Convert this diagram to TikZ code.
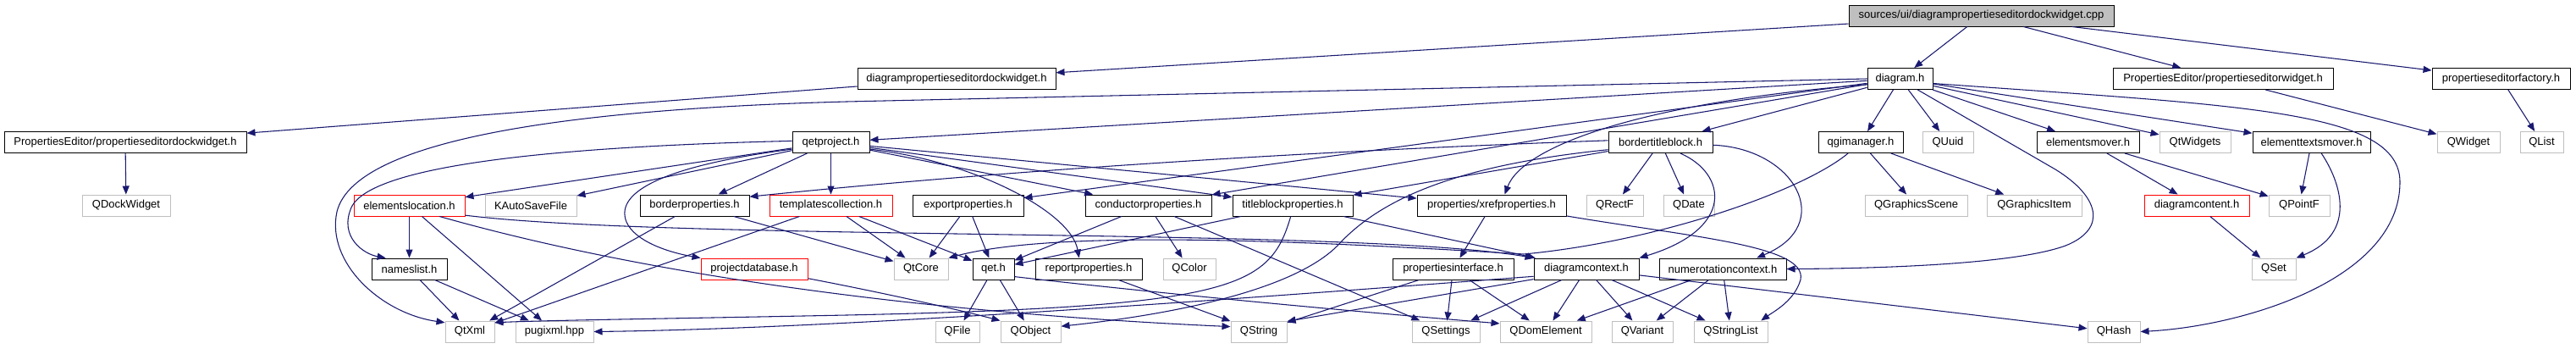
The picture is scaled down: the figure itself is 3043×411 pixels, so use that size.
\documentclass[tikz,border=0pt]{standalone}
\usepackage{fontspec}
\setmainfont{Liberation Sans}
\usetikzlibrary{arrows.meta}
\definecolor{edgeblue}{HTML}{191970}
\definecolor{greyb}{HTML}{BFBFBF}
\definecolor{truncred}{HTML}{FF0000}
\tikzset{
  base/.style={rectangle, minimum height=18.75pt, inner sep=0pt, line width=0.75pt,
    font=\fontsize{9.75pt}{11pt}\selectfont, text=black},
  doc/.style={base, draw=black, fill=white},
  ext/.style={base, draw=greyb, fill=white},
  trunc/.style={base, draw=truncred, fill=white},
  rootn/.style={base, draw=black, fill=greyb},
  bw/.style={minimum width=#1*0.75pt},
  dep/.style={draw=edgeblue, line width=0.8pt, -{Triangle[length=7.5pt,width=6pt]}}
}
\begin{document}
\begin{tikzpicture}[x=0.75pt,y=-0.75pt]
\fill[white] (0,0) rectangle (3043,411);
\path[use as bounding box] (0,0) rectangle (3043,411);
% row 0
\node[rootn,bw=313] (root) at (2340.5,18.5) {sources/ui/diagrampropertieseditordockwidget.cpp};
% row 1
\node[doc,bw=234] (dpedw) at (1130,93) {diagrampropertieseditordockwidget.h};
\node[doc,bw=77] (d) at (2244.5,93) {diagram.h};
\node[doc,bw=260] (pew) at (2626,93) {PropertiesEditor/propertieseditorwidget.h};
\node[doc,bw=163] (pef) at (2954.5,93) {propertieseditorfactory.h};
% row 2
\node[doc,bw=286] (pedw) at (148,168) {PropertiesEditor/propertieseditordockwidget.h};
\node[doc,bw=91] (qp) at (981.5,168) {qetproject.h};
\node[doc,bw=123] (btb) at (1961.5,168) {bordertitleblock.h};
\node[doc,bw=100] (qgim) at (2198,168) {qgimanager.h};
\node[ext,bw=60] (quuid) at (2301,168) {QUuid};
\node[doc,bw=121] (em) at (2466.5,168) {elementsmover.h};
\node[ext,bw=84] (qtwidgets) at (2593,168) {QtWidgets};
\node[doc,bw=139] (etm) at (2730.5,168) {elementtextsmover.h};
\node[ext,bw=74] (qwidget) at (2916,168) {QWidget};
\node[ext,bw=51] (qlist) at (3002.5,168) {QList};
% row 3
\node[ext,bw=104] (qdockwidget) at (149,242.5) {QDockWidget};
\node[trunc,bw=131] (el) at (483.5,242.5) {elementslocation.h};
\node[ext,bw=108] (kasf) at (627,242.5) {KAutoSaveFile};
\node[doc,bw=129] (bp) at (820.5,242.5) {borderproperties.h};
\node[trunc,bw=145] (tc) at (981.5,242.5) {templatescollection.h};
\node[doc,bw=131] (exp) at (1143.5,242.5) {exportproperties.h};
\node[doc,bw=149] (cp) at (1356.5,242.5) {conductorproperties.h};
\node[doc,bw=142] (tbp) at (1527,242.5) {titleblockproperties.h};
\node[doc,bw=176] (xref) at (1762,242.5) {properties/xrefproperties.h};
\node[ext,bw=67] (qrectf) at (1907.5,242.5) {QRectF};
\node[ext,bw=60] (qdate) at (1995,242.5) {QDate};
\node[ext,bw=121] (qgs) at (2263.5,242.5) {QGraphicsScene};
\node[ext,bw=112] (qgi) at (2403,242.5) {QGraphicsItem};
\node[trunc,bw=124] (dct) at (2595,242.5) {diagramcontent.h};
\node[ext,bw=72] (qpointf) at (2716,242.5) {QPointF};
% row 4
\node[doc,bw=89] (nl) at (483.5,317.5) {nameslist.h};
\node[trunc,bw=126] (pdb) at (891,317.5) {projectdatabase.h};
\node[ext,bw=64] (qtcore) at (1088,317.5) {QtCore};
\node[doc,bw=49] (qet) at (1173.5,317.5) {qet.h};
\node[doc,bw=126] (rp) at (1286,317.5) {reportproperties.h};
\node[ext,bw=62] (qcolor) at (1405,317.5) {QColor};
\node[doc,bw=143] (pi) at (1716.5,317.5) {propertiesinterface.h};
\node[doc,bw=124] (dc) at (1874,317.5) {diagramcontext.h};
\node[doc,bw=150] (nc) at (2035,317.5) {numerotationcontext.h};
\node[ext,bw=52] (qset) at (2686,317.5) {QSet};
% row 5
\node[ext,bw=58] (qtxml) at (555,391.5) {QtXml};
\node[ext,bw=92] (pugixml) at (655,391.5) {pugixml.hpp};
\node[ext,bw=52] (qfile) at (1131,391.5) {QFile};
\node[ext,bw=71] (qobject) at (1217.5,391.5) {QObject};
\node[ext,bw=66] (qstring) at (1487,391.5) {QString};
\node[ext,bw=80] (qsettings) at (1708,391.5) {QSettings};
\node[ext,bw=108] (qdomelement) at (1826,391.5) {QDomElement};
\node[ext,bw=72] (qvariant) at (1940,391.5) {QVariant};
\node[ext,bw=87] (qstringlist) at (2044.5,391.5) {QStringList};
\node[ext,bw=62] (qhash) at (2497,391.5) {QHash};

% root
\draw[dep] (root) -- (dpedw);
\draw[dep] (root) -- (d);
\draw[dep] (root) -- (pew);
\draw[dep] (root) -- (pef);
\draw[dep] (dpedw) -- (pedw);
\draw[dep] (pedw) -- (qdockwidget);
\draw[dep] (pew) -- (qwidget);
\draw[dep] (pef) -- (qlist);
% diagram.h
\draw[dep] (d.west) -- (1000,120) .. controls (700,128) and (420,160) .. (398,250) .. controls (385,310) and (450,370) .. (qtxml.160);
\draw[dep] (d) -- (qp);
\draw[dep] (d) -- (exp);
\draw[dep] (d) -- (cp);
\draw[dep] (d.190) .. controls (1950,120) and (1800,170) .. (xref.40);
\draw[dep] (d) -- (btb);
\draw[dep] (d) -- (qgim);
\draw[dep] (d) -- (quuid);
\draw[dep] (d) -- (em);
\draw[dep] (d) -- (qtwidgets);
\draw[dep] (d) -- (etm);
\draw[dep] (d.-32) -- (2428,200) .. controls (2480,232) and (2490,270) .. (2440,290) .. controls (2380,312) and (2220,317) .. (nc.east);
\draw[dep] (d.-8) .. controls (2650,125) and (2835,130) .. (2835,215) .. controls (2835,330) and (2650,385) .. (qhash.east);
% qetproject.h
\draw[dep] (qp) -- (el);
\draw[dep] (qp) -- (kasf);
\draw[dep] (qp) -- (bp);
\draw[dep] (qp) -- (tc);
\draw[dep] (qp) -- (cp);
\draw[dep] (qp) -- (tbp);
\draw[dep] (qp) -- (xref);
\draw[dep] (qp.178) .. controls (700,172) and (440,190) .. (415,245) .. controls (400,280) and (430,300) .. (nl.155);
\draw[dep] (qp.190) .. controls (790,195) and (725,225) .. (740,262) .. controls (750,285) and (790,298) .. (pdb.north west);
\draw[dep] (qp.-10) .. controls (1150,190) and (1265,250) .. (rp.131);
% bordertitleblock.h
\draw[dep] (btb.178) .. controls (1500,180) and (1150,205) .. (bp.9);
\draw[dep] (btb) -- (tbp);
\draw[dep] (btb.188) .. controls (1720,195) and (1630,235) .. (1580,290) .. controls (1520,350) and (1350,375) .. (qobject.10);
\draw[dep] (btb) -- (qrectf);
\draw[dep] (btb) -- (qdate);
\draw[dep] (btb.-29) .. controls (2040,205) and (2050,270) .. (dc.north east);
\draw[dep] (btb.-3) .. controls (2120,175) and (2170,265) .. (nc.18);
% qgimanager.h
\draw[dep] (qgim) -- (qgs);
\draw[dep] (qgim) -- (qgi);
\draw[dep] (qgim.-139) .. controls (2130,225) and (1960,285) .. (1800,300) .. controls (1550,285) and (1250,270) .. (qtcore.north east);
% movers
\draw[dep] (em) -- (dct);
\draw[dep] (em) -- (qpointf);
\draw[dep] (etm) -- (qpointf);
\draw[dep] (etm.-48) .. controls (2765,215) and (2785,275) .. (qset.north east);
\draw[dep] (dct) -- (qset);
% elementslocation.h
\draw[dep] (el) -- (nl);
\draw[dep] (el) -- (pugixml);
\draw[dep] (el.-10) .. controls (800,285) and (1600,268) .. (dc.north west);
\draw[dep] (el.-20) .. controls (800,335) and (1150,372) .. (qstring.170);
% projectdatabase.h
\draw[dep] (pdb.-10) .. controls (1040,345) and (1130,365) .. (qobject.north west);
% borderproperties.h, templatescollection.h
\draw[dep] (bp) -- (qtxml);
\draw[dep] (bp) -- (qtcore);
\draw[dep] (tc) -- (qtxml);
\draw[dep] (tc) -- (qtcore);
\draw[dep] (tc) -- (qet);
% exportproperties.h, conductorproperties.h
\draw[dep] (exp) -- (qtcore);
\draw[dep] (exp) -- (qet);
\draw[dep] (cp) -- (qet);
\draw[dep] (cp) -- (qcolor);
\draw[dep] (cp) -- (qsettings);
% titleblockproperties.h
\draw[dep] (tbp) -- (qet);
\draw[dep] (tbp) -- (dc);
\draw[dep] (tbp.-100) .. controls (1500,340) and (1460,362) .. (1000,372) .. controls (800,376) and (650,378) .. (qtxml.20);
% xrefproperties.h
\draw[dep] (xref) -- (pi);
\draw[dep] (xref.-8) .. controls (2000,280) and (2135,290) .. (2127,330) .. controls (2120,355) and (2095,368) .. (qstringlist.20);
% row 4
\draw[dep] (nl) -- (qtxml);
\draw[dep] (nl) -- (pugixml);
\draw[dep] (qet) -- (qfile);
\draw[dep] (qet) -- (qobject);
\draw[dep] (qet.-20) .. controls (1400,350) and (1650,372) .. (qdomelement.170);
\draw[dep] (rp) -- (qstring);
\draw[dep] (pi) -- (qstring);
\draw[dep] (pi) -- (qsettings);
\draw[dep] (pi) -- (qdomelement);
\draw[dep] (dc.188) .. controls (1500,350) and (1000,388) .. (pugixml.east);
\draw[dep] (dc.191) -- (qstring.20);
\draw[dep] (dc) -- (qsettings);
\draw[dep] (dc) -- (qdomelement);
\draw[dep] (dc) -- (qvariant);
\draw[dep] (dc) -- (qstringlist);
\draw[dep] (dc) -- (qhash);
\draw[dep] (nc) -- (qdomelement);
\draw[dep] (nc) -- (qvariant);
\draw[dep] (nc) -- (qstringlist);
\end{tikzpicture}
\end{document}
